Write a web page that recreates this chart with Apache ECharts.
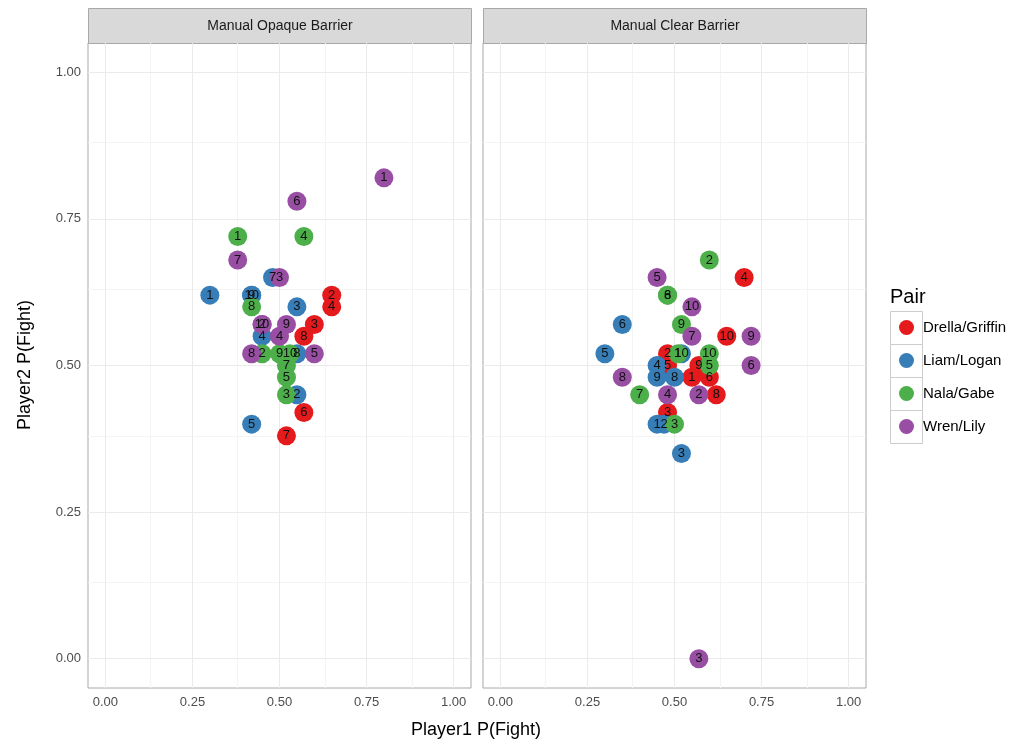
<!DOCTYPE html>
<html>
<head>
<meta charset="utf-8">
<script src="https://cdn.jsdelivr.net/npm/echarts@6/dist/echarts.min.js"></script>
<style>
  html, body { margin: 0; padding: 0; background: #fff; }
  #chart { width: 1029px; height: 747px; }
</style>
</head>
<body>
<div id="chart"></div>
<script>
// pairs and panels
const pairs = ["Drella/Griffin", "Liam/Logan", "Nala/Gabe", "Wren/Lily"];
const pairColors = ["#E41A1C", "#377EB8", "#4DAF4A", "#984EA3"];
const panels = ["Manual Opaque Barrier", "Manual Clear Barrier"];

// [player1 P(fight), player2 P(fight), session]
const drellaOpaque = [[0.65,0.62,2],[0.65,0.60,4],[0.60,0.57,3],[0.57,0.55,8],[0.57,0.42,6],[0.52,0.38,7]];
const liamOpaque = [[0.30,0.62,1],[0.42,0.62,9],[0.42,0.62,10],[0.48,0.65,7],[0.55,0.60,3],[0.45,0.55,4],[0.55,0.52,8],[0.55,0.45,2],[0.42,0.40,5]];
const nalaOpaque = [[0.38,0.72,1],[0.57,0.72,4],[0.42,0.60,8],[0.45,0.52,2],[0.50,0.52,9],[0.53,0.52,10],[0.52,0.50,7],[0.52,0.48,5],[0.52,0.45,3]];
const wrenOpaque = [[0.80,0.82,1],[0.55,0.78,6],[0.38,0.68,7],[0.50,0.65,3],[0.45,0.57,2],[0.45,0.57,10],[0.52,0.57,9],[0.50,0.55,4],[0.42,0.52,8],[0.60,0.52,5]];

const drellaClear = [[0.70,0.65,4],[0.65,0.55,10],[0.48,0.52,2],[0.48,0.50,5],[0.57,0.50,9],[0.55,0.48,1],[0.60,0.48,6],[0.62,0.45,8],[0.48,0.42,3]];
const liamClear = [[0.35,0.57,6],[0.30,0.52,5],[0.52,0.52,10],[0.45,0.50,4],[0.45,0.48,9],[0.50,0.48,8],[0.45,0.40,1],[0.47,0.40,2],[0.52,0.35,3]];
const nalaClear = [[0.60,0.68,2],[0.48,0.62,6],[0.48,0.62,8],[0.52,0.57,9],[0.51,0.52,1],[0.60,0.52,10],[0.60,0.50,5],[0.40,0.45,7],[0.50,0.40,3]];
const wrenClear = [[0.45,0.65,5],[0.55,0.60,10],[0.55,0.55,7],[0.72,0.55,9],[0.72,0.50,6],[0.35,0.48,8],[0.48,0.45,4],[0.57,0.45,2],[0.57,0.00,3]];

const opaqueData = [drellaOpaque, liamOpaque, nalaOpaque, wrenOpaque];
const clearData = [drellaClear, liamClear, nalaClear, wrenClear];

// axis breaks
const majorBreaks = [0, 0.25, 0.5, 0.75, 1];
const minorBreaks = [0.125, 0.375, 0.625, 0.875];

const font = "'Liberation Sans', Arial, sans-serif";
const chart = echarts.init(document.getElementById("chart"));

const gridLines = () => [
  ...minorBreaks.map((v) => ({ xAxis: v, lineStyle: { color: "#F4F4F4", width: 1, type: "solid" } })),
  ...minorBreaks.map((v) => ({ yAxis: v, lineStyle: { color: "#F4F4F4", width: 1, type: "solid" } })),
  ...majorBreaks.map((v) => ({ xAxis: v, lineStyle: { color: "#EBEBEB", width: 1, type: "solid" } })),
  ...majorBreaks.map((v) => ({ yAxis: v, lineStyle: { color: "#EBEBEB", width: 1, type: "solid" } })),
];

const series = [];
[opaqueData, clearData].forEach((groups, gi) => {
  // background grid lines
  series.push({
    type: "scatter",
    xAxisIndex: gi,
    yAxisIndex: gi,
    data: [],
    z: 1,
    silent: true,
    markLine: {
      z: 1,
      silent: true,
      symbol: "none",
      label: { show: false },
      animation: false,
      data: gridLines(),
    },
  });
  groups.forEach((d, k) => {
    series.push({
      name: pairs[k],
      type: "scatter",
      xAxisIndex: gi,
      yAxisIndex: gi,
      data: d,
      z: 3,
      symbolSize: 19,
      itemStyle: { color: pairColors[k], opacity: 1 },
      label: {
        show: true,
        position: "inside",
        formatter: (p) => String(p.value[2]),
        color: "#111",
        fontSize: 13,
        fontFamily: font,
      },
      emphasis: { disabled: true },
    });
  });
});

const xAxisCfg = (i) => ({
  type: "value",
  gridIndex: i,
  min: -0.05,
  max: 1.05,
  axisLine: { show: false },
  splitLine: { show: false },
  axisTick: { show: true, customValues: majorBreaks, length: 4, lineStyle: { color: "#333" } },
  axisLabel: {
    customValues: majorBreaks,
    formatter: (v) => v.toFixed(2),
    color: "#4D4D4D",
    fontSize: 13,
    fontFamily: font,
    margin: 8,
  },
});

const yAxisCfg = (i) => ({
  type: "value",
  gridIndex: i,
  min: -0.05,
  max: 1.05,
  axisLine: { show: false },
  splitLine: { show: false },
  axisTick: { show: i === 0, customValues: majorBreaks, length: 4, lineStyle: { color: "#333" } },
  axisLabel: {
    show: i === 0,
    customValues: majorBreaks,
    formatter: (v) => v.toFixed(2),
    color: "#4D4D4D",
    fontSize: 13,
    fontFamily: font,
    margin: 7,
  },
});

const stripX = [88, 483];
const graphics = [];
panels.forEach((t, i) => {
  graphics.push({
    type: "rect",
    shape: { x: stripX[i] + 0.5, y: 8.5, width: 383, height: 35 },
    style: { fill: "#D9D9D9", stroke: "#A8A8A8", lineWidth: 1 },
  });
  graphics.push({
    type: "text",
    x: stripX[i] + 192,
    y: 26,
    style: { text: t, fill: "#1A1A1A", font: "14px " + font, align: "center", verticalAlign: "middle" },
  });
});
// legend key boxes
for (let k = 0; k < pairs.length; k++) {
  graphics.push({
    type: "rect",
    shape: { x: 890.5, y: 311.5 + k * 33, width: 32, height: 33 },
    style: { fill: "#fff", stroke: "#CCCCCC", lineWidth: 1 },
    z: -1,
  });
}
graphics.push({
  type: "text",
  x: 476,
  y: 730,
  style: { text: "Player1 P(Fight)", fill: "#000", font: "18px " + font, align: "center", verticalAlign: "middle" },
});
graphics.push({
  type: "text",
  x: 25,
  y: 365,
  rotation: Math.PI / 2,
  style: { text: "Player2 P(Fight)", fill: "#000", font: "18px " + font, align: "center", verticalAlign: "middle" },
});

chart.setOption({
  backgroundColor: "#fff",
  animation: false,
  title: {
    text: "Pair",
    left: 890,
    top: 287,
    textStyle: { fontSize: 20, fontWeight: "normal", color: "#000", fontFamily: font },
    padding: 0,
  },
  legend: {
    data: pairs,
    orient: "vertical",
    left: 899,
    top: 320,
    icon: "circle",
    itemWidth: 15,
    itemHeight: 15,
    itemGap: 18,
    padding: 0,
    textStyle: { color: "#000", fontSize: 15, fontFamily: font, padding: [0, 0, 0, 4] },
    selectedMode: false,
  },
  grid: [
    { left: 88, top: 43, width: 383, height: 645, show: true, borderColor: "#A8A8A8", borderWidth: 1, backgroundColor: "#fff" },
    { left: 483, top: 43, width: 383, height: 645, show: true, borderColor: "#A8A8A8", borderWidth: 1, backgroundColor: "#fff" },
  ],
  xAxis: [xAxisCfg(0), xAxisCfg(1)],
  yAxis: [yAxisCfg(0), yAxisCfg(1)],
  graphic: graphics,
  series: series,
});
</script>
</body>
</html>
